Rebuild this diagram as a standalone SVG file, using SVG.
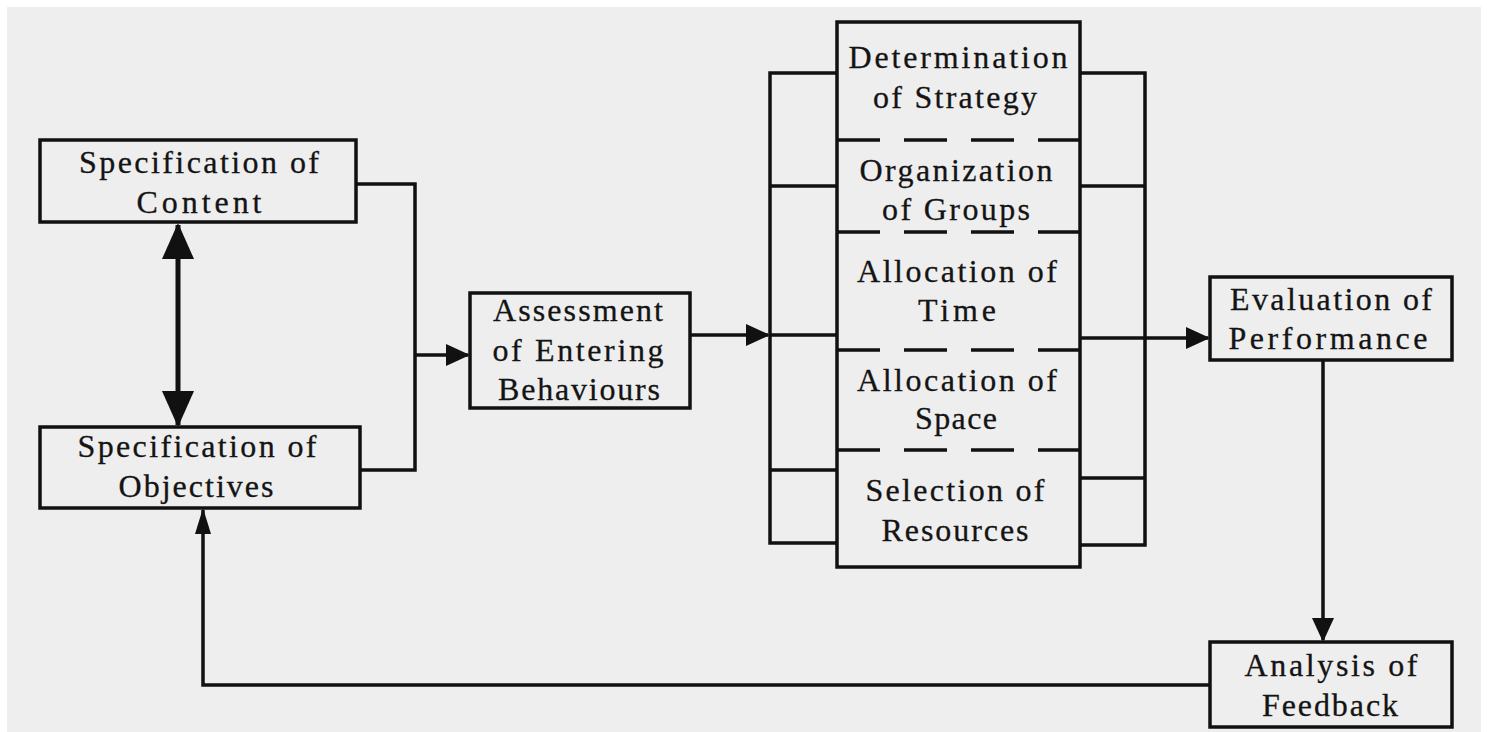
<svg xmlns="http://www.w3.org/2000/svg" width="1487" height="732" viewBox="0 0 1487 732">
  <defs>
    <style>
      .box { fill: none; stroke: #111; stroke-width: 3.5; }
      .ln { fill: none; stroke: #111; stroke-width: 3.5; }
      .dash { fill: none; stroke: #111; stroke-width: 3.5; stroke-dasharray: 43 24; }
      .lbl { font-family: "Liberation Serif", "Times New Roman", serif; font-size: 32px; fill: #141414; stroke: #141414; stroke-width: 0.3; text-anchor: middle; }
    </style>
    <marker id="head" viewBox="0 0 24 22" refX="22" refY="11" markerWidth="24" markerHeight="22" markerUnits="userSpaceOnUse" orient="auto">
      <path d="M0,0 L24,11 L0,22 Z" fill="#111"/>
    </marker>
    <marker id="bighead" viewBox="0 0 36 32" refX="34" refY="16" markerWidth="36" markerHeight="32" markerUnits="userSpaceOnUse" orient="auto-start-reverse">
      <path d="M0,0 L36,16 L0,32 Z" fill="#111"/>
    </marker>
    <marker id="thinhead" viewBox="0 0 26 16" refX="24" refY="8" markerWidth="26" markerHeight="16" markerUnits="userSpaceOnUse" orient="auto">
      <path d="M0,0 L26,8 L0,16 Z" fill="#111"/>
    </marker>
  </defs>

  <!-- page -->
  <rect x="0" y="0" width="1487" height="732" fill="#ffffff"/>
  <rect x="7" y="7" width="1474" height="725" fill="#eeeeee"/>

  <g id="connectors">
    <!-- content / objectives merge -->
    <path class="ln" d="M356,184 H415 V470 H360"/>
    <path class="ln" d="M415,355 H468" marker-end="url(#head)"/>
    <!-- two-way link content <-> objectives -->
    <path class="ln" style="stroke-width:5" d="M178,225 V425" marker-start="url(#bighead)" marker-end="url(#bighead)"/>
    <!-- assessment to planning column -->
    <path class="ln" d="M690,335 H768" marker-end="url(#head)"/>
    <!-- left bracket -->
    <path class="ln" d="M837,73 H770 V543 H837"/>
    <path class="ln" d="M770,186 H837 M770,335 H837 M770,470 H837"/>
    <!-- right bracket -->
    <path class="ln" d="M1080,73 H1145 V545 H1080"/>
    <path class="ln" d="M1080,186 H1145 M1080,478 H1145"/>
    <path class="ln" d="M1080,338 H1208" marker-end="url(#head)"/>
    <!-- evaluation to analysis -->
    <path class="ln" d="M1323,360 V640" marker-end="url(#head)"/>
    <!-- feedback loop -->
    <path class="ln" d="M1210,685 H203 V510" marker-end="url(#thinhead)"/>
  </g>

  <g id="spec-content">
    <rect class="box" x="40" y="140" width="316" height="82"/>
    <text class="lbl" x="199" y="173" textLength="240" lengthAdjust="spacing">Specification of</text>
    <text class="lbl" x="199" y="213" textLength="125" lengthAdjust="spacing">Content</text>
  </g>

  <g id="spec-objectives">
    <rect class="box" x="40" y="427" width="320" height="81"/>
    <text class="lbl" x="197" y="457" textLength="239" lengthAdjust="spacing">Specification of</text>
    <text class="lbl" x="196" y="497" textLength="155" lengthAdjust="spacing">Objectives</text>
  </g>

  <g id="assessment">
    <rect class="box" x="470" y="293" width="220" height="115"/>
    <text class="lbl" x="578" y="321" textLength="170" lengthAdjust="spacing">Assessment</text>
    <text class="lbl" x="578" y="361" textLength="171" lengthAdjust="spacing">of Entering</text>
    <text class="lbl" x="579" y="400" textLength="162" lengthAdjust="spacing">Behaviours</text>
  </g>

  <g id="planning-column">
    <rect class="box" x="837" y="22" width="243" height="545"/>
    <path class="dash" d="M837,140 H1080 M837,232 H1080 M837,350 H1080 M837,450 H1080"/>
  </g>

  <g id="strategy">
    <text class="lbl" x="958" y="68" textLength="219" lengthAdjust="spacing">Determination</text>
    <text class="lbl" x="955" y="108" textLength="164" lengthAdjust="spacing">of Strategy</text>
  </g>

  <g id="groups">
    <text class="lbl" x="956" y="181" textLength="193" lengthAdjust="spacing">Organization</text>
    <text class="lbl" x="956" y="220" textLength="148" lengthAdjust="spacing">of Groups</text>
  </g>

  <g id="time">
    <text class="lbl" x="957" y="282" textLength="200" lengthAdjust="spacing">Allocation of</text>
    <text class="lbl" x="957" y="321" textLength="78" lengthAdjust="spacing">Time</text>
  </g>

  <g id="space">
    <text class="lbl" x="957" y="391" textLength="200" lengthAdjust="spacing">Allocation of</text>
    <text class="lbl" x="956" y="429" textLength="82" lengthAdjust="spacing">Space</text>
  </g>

  <g id="resources">
    <text class="lbl" x="955" y="501" textLength="179" lengthAdjust="spacing">Selection of</text>
    <text class="lbl" x="955" y="541" textLength="147" lengthAdjust="spacing">Resources</text>
  </g>

  <g id="evaluation">
    <rect class="box" x="1210" y="277" width="242" height="83"/>
    <text class="lbl" x="1331" y="310" textLength="202" lengthAdjust="spacing">Evaluation of</text>
    <text class="lbl" x="1328" y="349" textLength="199" lengthAdjust="spacing">Performance</text>
  </g>

  <g id="analysis">
    <rect class="box" x="1210" y="642" width="242" height="85"/>
    <text class="lbl" x="1331" y="676" textLength="173" lengthAdjust="spacing">Analysis of</text>
    <text class="lbl" x="1330" y="716" textLength="136" lengthAdjust="spacing">Feedback</text>
  </g>
</svg>
